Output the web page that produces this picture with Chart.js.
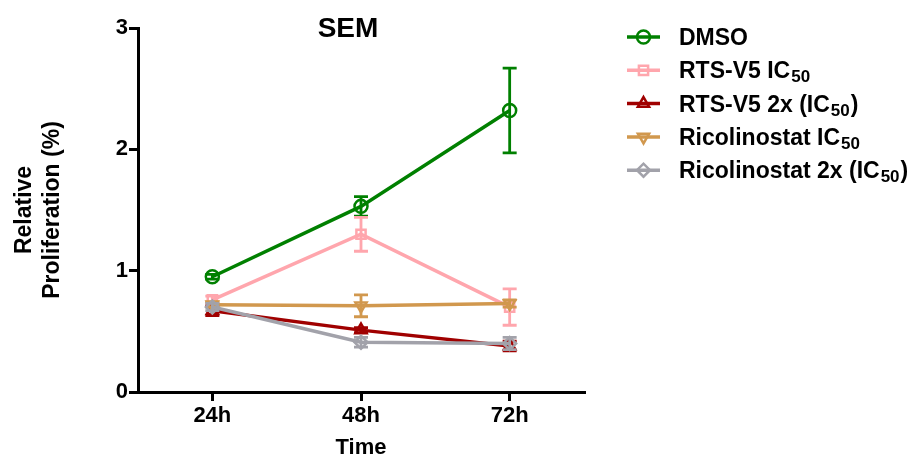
<!DOCTYPE html>
<html>
<head>
<meta charset="utf-8">
<script src="https://cdn.jsdelivr.net/npm/chart.js@4.4.1/dist/chart.umd.min.js"></script>
<style>
  html, body { margin: 0; padding: 0; background: #fff; }
  #wrap { width: 920px; height: 459px; position: relative; }
</style>
</head>
<body>
<div id="wrap"><canvas id="c"></canvas></div>
<script>
//================================ DATA

const timePoints = ['24h', '48h', '72h'];

const dmsoMean = [0.95, 1.53, 2.32];
const dmsoSem = [0.02, 0.08, 0.35];

const rtsMean = [0.76, 1.30, 0.70];
const rtsSem = [0.03, 0.14, 0.15];

const rts2xMean = [0.67, 0.51, 0.38];
const rts2xSem = [0.04, 0.02, 0.04];

const ricoMean = [0.72, 0.71, 0.73];
const ricoSem = [0.02, 0.09, 0.03];

const rico2xMean = [0.70, 0.41, 0.40];
const rico2xSem = [0.03, 0.04, 0.05];

// label parts: [text, subscript, tail]
const seriesLabels = [
  ['DMSO', '', ''],
  ['RTS-V5 IC', '50', ''],
  ['RTS-V5 2x (IC', '50', ')'],
  ['Ricolinostat IC', '50', ''],
  ['Ricolinostat 2x (IC', '50', ')'],
];

const yTicks = [0, 1, 2, 3];
const chartTitle = 'SEM';
const xTitle = 'Time';
const yTitle = ['Relative', 'Proliferation (%)'];

//================================ PLUGINS

const FONT = '"Liberation Sans", Arial, sans-serif';

// barres d'error SEM, sota cada sèrie
const errorBars = {
  id: 'errorBars',
  beforeDatasetDraw (chart, args) {
    const ds = chart.data.datasets[args.index];
    const yScale = chart.scales.y;
    const ctx = chart.ctx;
    ctx.save();
    ctx.strokeStyle = ds.borderColor;
    ctx.lineWidth = 2.8;
    for (let j = 0; j < ds.data.length; j++) {
      const pt = args.meta.data[j];
      const hi = yScale.getPixelForValue(ds.data[j] + ds.sem[j]);
      const lo = yScale.getPixelForValue(ds.data[j] - ds.sem[j]);
      ctx.beginPath();
      ctx.moveTo(pt.x, hi);
      ctx.lineTo(pt.x, lo);
      ctx.moveTo(pt.x - 7, hi);
      ctx.lineTo(pt.x + 7, hi);
      ctx.moveTo(pt.x - 7, lo);
      ctx.lineTo(pt.x + 7, lo);
      ctx.stroke();
    }
    ctx.restore();
  },
};

// títol i llegenda amb subíndexs
const sideLegend = {
  id: 'sideLegend',
  afterDraw (chart) {
    const ctx = chart.ctx;
    ctx.save();
    ctx.fillStyle = '#000';
    ctx.font = 'bold 28px ' + FONT;
    ctx.textAlign = 'center';
    ctx.textBaseline = 'alphabetic';
    ctx.fillText(chartTitle, 348, 37);

    const dsets = chart.data.datasets;
    for (let i = 0; i < dsets.length; i++) {
      const ds = dsets[i];
      const y = 37 + i * 33.3;
      ctx.strokeStyle = ds.borderColor;
      ctx.lineWidth = 3.5;
      ctx.beginPath();
      ctx.moveTo(627, y);
      ctx.lineTo(660, y);
      ctx.stroke();
      ctx.fillStyle = 'rgba(0,0,0,0)';
      ctx.lineWidth = 2.5;
      Chart.helpers.drawPoint(ctx, {
        pointStyle: ds.pointStyle,
        rotation: ds.pointRotation || 0,
        radius: ds.pointRadius,
        borderWidth: 2.5,
      }, 643.5, y);

      const parts = seriesLabels[i];
      let x = 679;
      const base = y + 8;
      ctx.fillStyle = '#000';
      ctx.textAlign = 'left';
      ctx.font = 'bold 23px ' + FONT;
      ctx.fillText(parts[0], x, base);
      x += ctx.measureText(parts[0]).width;
      if (parts[1] !== '') {
        ctx.font = 'bold 17px ' + FONT;
        ctx.fillText(parts[1], x + 1, base + 4);
        x += ctx.measureText(parts[1]).width + 2;
      }
      if (parts[2] !== '') {
        ctx.font = 'bold 23px ' + FONT;
        ctx.fillText(parts[2], x, base);
      }
    }
    ctx.restore();
  },
};

//================================ CHART

function makeSeries (label, mean, sem, color, style, rotation, order) {
  return {
    label,
    data: mean,
    sem,
    borderColor: color,
    backgroundColor: color,
    borderWidth: 3.5,
    pointStyle: style,
    pointRotation: rotation,
    pointRadius: 6.5,
    pointBorderWidth: 2.5,
    pointBorderColor: color,
    pointBackgroundColor: 'rgba(0,0,0,0)',
    tension: 0,
    order,
  };
}

const tickFont = { family: FONT, size: 22, weight: 'bold' };
const xTitleFont = { family: FONT, size: 22, weight: 'bold', lineHeight: 1.0 };
const yTitleFont = { family: FONT, size: 23, weight: 'bold', lineHeight: 1.2 };

new Chart(document.getElementById('c'), {
  type: 'line',
  data: {
    labels: timePoints,
    datasets: [
      makeSeries('DMSO', dmsoMean, dmsoSem, '#008000', 'circle', 0, 5),
      makeSeries('RTS-V5 IC50', rtsMean, rtsSem, '#ffa6ad', 'rect', 0, 4),
      makeSeries('RTS-V5 2x (IC50)', rts2xMean, rts2xSem, '#a00000', 'triangle', 0, 3),
      makeSeries('Ricolinostat IC50', ricoMean, ricoSem, '#d1984e', 'triangle', 180, 2),
      makeSeries('Ricolinostat 2x (IC50)', rico2xMean, rico2xSem, '#a2a2aa', 'rectRot', 0, 1),
    ],
  },
  options: {
    responsive: true,
    maintainAspectRatio: false,
    animation: false,
    layout: { padding: { top: 28, right: 336, bottom: 0, left: 0 } },
    plugins: {
      legend: { display: false },
      tooltip: { enabled: false },
    },
    scales: {
      x: {
        offset: true,
        grid: { display: true, drawOnChartArea: false, drawTicks: true, tickLength: 9, color: '#000', lineWidth: 3, offset: false },
        border: { color: '#000', width: 3 },
        ticks: { color: '#000', font: tickFont, padding: 2, maxRotation: 0 },
        title: { display: true, text: xTitle, color: '#000', font: xTitleFont, padding: { top: 0, bottom: 0 } },
        afterFit (scale) { scale.height = 67; },
      },
      y: {
        min: 0,
        max: 3,
        afterBuildTicks (scale) {
          const t = [];
          for (let k = 0; k < yTicks.length; k++) t.push({ value: yTicks[k] });
          scale.ticks = t;
        },
        grid: { display: true, drawOnChartArea: false, drawTicks: true, tickLength: 9, color: '#000', lineWidth: 3 },
        border: { color: '#000', width: 3 },
        ticks: { color: '#000', font: tickFont, padding: 1 },
        title: { display: true, text: yTitle, color: '#000', font: yTitleFont, padding: { top: 11, bottom: 0 } },
        afterFit (scale) { scale.width = 138; },
      },
    },
  },
  plugins: [errorBars, sideLegend],
});
</script>
</body>
</html>
